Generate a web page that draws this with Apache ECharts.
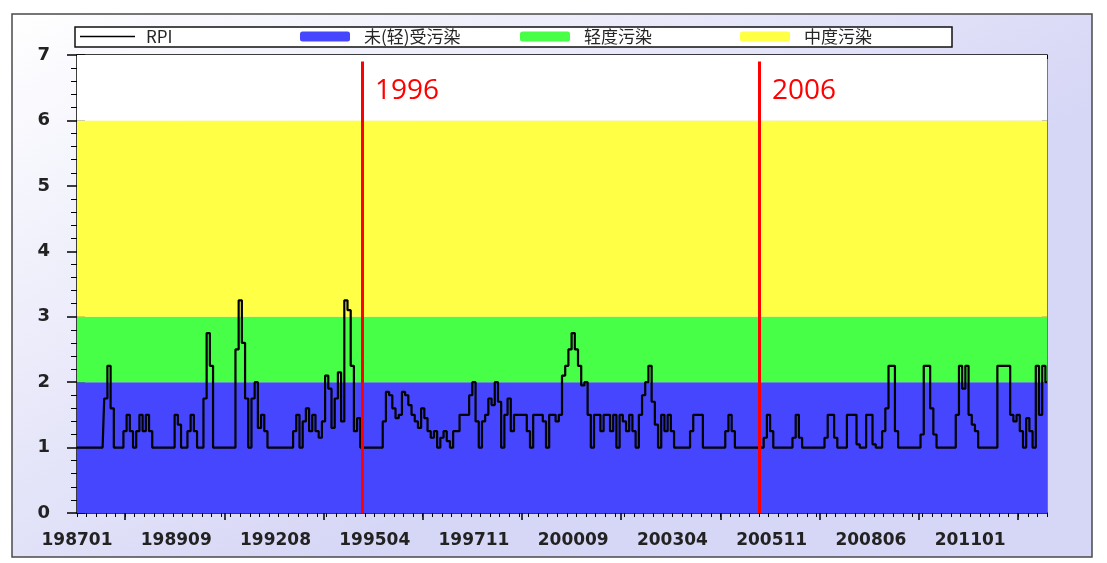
<!DOCTYPE html>
<html>
<head>
<meta charset="utf-8">
<script src="https://cdn.jsdelivr.net/npm/echarts@6/dist/echarts.min.js"></script>
<style>html,body{margin:0;padding:0;background:#fff}#c{width:1107px;height:563px}</style>
</head>
<body>
<div id="c"></div>
<script>
// ---- data ----
const tickLabels = ['198701','198909','199208','199504','199711','200009','200304','200511','200806','201101'];
const stepsPerLabel = 31;
const tailCount = 25;
const seriesNames = ['RPI', '未(轻)受污染', '轻度污染', '中度污染'];
const bandColors = ['#4646FF', '#46FF46', '#FFFF46', '#FFFFFF'];
const bandRanges = [[0, 2], [2, 3], [3, 6], [6, 7]];
const markerYears = ['1996', '2006'];
const markerIndex = [89, 213];
const rpi = [
 1,1,1,1,1,1,1,1,1,1.75,
 2.25,1.6,1,1,1,1.25,1.5,1.25,1,1.25,
 1.5,1.25,1.5,1.25,1,1,1,1,1,1,
 1,1.5,1.35,1,1,1.25,1.5,1.25,1,1,
 1.75,2.75,2.25,1,1,1,1,1,1,1,
 2.5,3.25,2.6,1.75,1,1.75,2,1.3,1.5,1.25,
 1,1,1,1,1,1,1,1,1.25,1.5,
 1,1.4,1.6,1.25,1.5,1.25,1.15,1.4,2.1,1.9,
 1.3,1.75,2.15,1.4,3.25,3.1,2.25,1.25,1.45,1,
 1,1,1,1,1,1,1.4,1.85,1.8,1.6,
 1.45,1.5,1.85,1.8,1.65,1.5,1.4,1.3,1.6,1.45,
 1.25,1.15,1.25,1,1.15,1.25,1.1,1,1.25,1.25,
 1.5,1.5,1.5,1.8,2,1.4,1,1.4,1.5,1.75,
 1.65,2,1.7,1,1.5,1.75,1.25,1.5,1.5,1.5,
 1.5,1.25,1,1.5,1.5,1.5,1.4,1,1.5,1.5,
 1.4,1.5,2.1,2.25,2.5,2.75,2.5,2.25,1.95,2,
 1.5,1,1.5,1.5,1.25,1.5,1.5,1.25,1.5,1,
 1.5,1.4,1.25,1.5,1.25,1,1.5,1.8,2,2.25,
 1.7,1.35,1,1.5,1.25,1.5,1.25,1,1,1,
 1,1,1.25,1.5,1.5,1.5,1,1,1,1,
 1,1,1,1.25,1.5,1.25,1,1,1,1,
 1,1,1,1,1,1.15,1.5,1.25,1,1,
 1,1,1,1,1.15,1.5,1.15,1,1,1,
 1,1,1,1,1.15,1.5,1.5,1.15,1,1,
 1,1.5,1.5,1.5,1.05,1,1,1.5,1.5,1.05,
 1,1,1.25,1.6,2.25,2.25,1.25,1,1,1,
 1,1,1,1,1.2,2.25,2.25,1.6,1.2,1,
 1,1,1,1,1,1.5,2.25,1.9,2.25,1.5,
 1.35,1.25,1,1,1,1,1,1,2.25,2.25,
 2.25,2.25,1.5,1.4,1.5,1.25,1,1.45,1.25,1,
 2.25,1.5,2.25,2
];

// ---- categories (months, labelled every 31 categories) ----
function toM(s){ return parseInt(s.slice(0,4),10)*12 + parseInt(s.slice(4),10) - 1; }
function fromM(m){ const y = Math.floor(m/12), mo = m%12 + 1; return '' + y + (mo < 10 ? '0' : '') + mo; }
const categories = [];
for (let k = 0; k < tickLabels.length - 1; k++) {
  const a = toM(tickLabels[k]), b = toM(tickLabels[k+1]);
  for (let j = 0; j < stepsPerLabel; j++) categories.push(fromM(a + Math.round(j*(b-a)/stepsPerLabel)));
}
for (let j = 0; j < tailCount; j++) categories.push(fromM(toM(tickLabels[tickLabels.length-1]) + j));

const chart = echarts.init(document.getElementById('c'));
const axisFont = {color:'#222', fontSize:17, fontWeight:'bold', fontFamily:'DejaVu Sans, sans-serif'};
const half = Math.floor(stepsPerLabel/2);
const legendLefts = [80, 300, 520, 740];

const baseX = {type:'category', data:categories, boundaryGap:false, gridIndex:0};
function legendFor(k){
  return {
    left:legendLefts[k], top:28, padding:0,
    itemWidth:k === 0 ? 55 : 50, itemHeight:10, itemGap:0,
    textStyle:{color:'#262626', fontSize:17, padding:[0,0,0,k === 0 ? 6 : 9], fontFamily:'Noto Sans CJK SC, sans-serif'},
    data:[{name:seriesNames[k], icon:k === 0 ? 'path://M0,5L55,5L55,6.3L0,6.3Z' : 'roundRect'}]
  };
}
const option = {
  animation:false,
  backgroundColor:'transparent',
  graphic:[{
    type:'rect', z:-10, silent:true,
    shape:{x:12, y:14, width:1080, height:543},
    style:{
      fill:new echarts.graphic.LinearGradient(0,0,0.3,1,[{offset:0,color:'#FFFFFF'},{offset:1,color:'#D6D6F6'}]),
      stroke:'#4a4a4a', lineWidth:1.5
    }
  },{
    type:'rect', z:-5, silent:true,
    shape:{x:75, y:27, width:877, height:20},
    style:{fill:'#FFFFFF', stroke:'#111', lineWidth:1.5}
  }],
  grid:{left:77, right:60, top:55, bottom:50, containLabel:false},
  legend:[legendFor(0), legendFor(1), legendFor(2), legendFor(3)],
  xAxis:[
    Object.assign({}, baseX, {
      position:'bottom',
      axisLine:{lineStyle:{color:'#000', width:1.5}},
      axisTick:{show:true, length:7, interval:(i)=> i % stepsPerLabel === half, lineStyle:{color:'#000', width:1.5}},
      axisLabel:Object.assign({interval:(i)=> i % stepsPerLabel === 0, margin:19}, axisFont),
      splitLine:{show:false}
    }),
    Object.assign({}, baseX, {
      position:'bottom',
      axisLine:{show:false},
      axisTick:{show:true, length:4, interval:(i)=> i % 3 === 0, lineStyle:{color:'#000', width:1}},
      axisLabel:{show:false}, splitLine:{show:false}
    }),
    Object.assign({}, baseX, {
      position:'bottom',
      axisLine:{show:false},
      axisTick:{show:true, inside:true, length:6, interval:(i)=> i % stepsPerLabel === half, lineStyle:{color:'#000', width:1.5}},
      axisLabel:{show:false}, splitLine:{show:false}
    }),
    Object.assign({}, baseX, {
      position:'top',
      axisLine:{lineStyle:{color:'#000', width:1.5}},
      axisTick:{show:true, inside:true, length:4, interval:(i)=> i % 3 === 0, lineStyle:{color:'#000', width:1}},
      axisLabel:{show:false}, splitLine:{show:false}
    })
  ],
  yAxis:[
    {
      type:'value', min:0, max:7, interval:1, position:'left',
      axisLine:{show:true, lineStyle:{color:'#000', width:1.5}},
      axisTick:{show:true, length:10, lineStyle:{color:'#000', width:1.5}},
      minorTick:{show:true, splitNumber:5, length:6, lineStyle:{color:'#000', width:1}},
      axisLabel:Object.assign({margin:27}, axisFont, {fontSize:18}),
      splitLine:{show:false}
    },
    {
      type:'value', min:0, max:7, interval:1, position:'left',
      axisLine:{show:false},
      axisTick:{show:true, inside:true, length:8, lineStyle:{color:'#000', width:1.5}},
      minorTick:{show:true, splitNumber:5, length:4, lineStyle:{color:'#000', width:1}},
      axisLabel:{show:false}, splitLine:{show:false}
    },
    {
      type:'value', min:0, max:7, interval:1, position:'right',
      axisLine:{show:true, lineStyle:{color:'#777', width:1}},
      axisTick:{show:true, inside:true, length:5, lineStyle:{color:'#333', width:1}},
      axisLabel:{show:false}, splitLine:{show:false}
    }
  ],
  series:[
    {
      name:seriesNames[0], type:'line', step:'middle', symbol:'none', z:3,
      data:rpi, xAxisIndex:0, yAxisIndex:0,
      itemStyle:{color:'#000'},
      lineStyle:{color:'#000', width:2.2},
      markArea:{
        silent:true,
        data:bandRanges.map((r, k) => [{yAxis:r[0], itemStyle:{color:bandColors[k], opacity:1}}, {yAxis:r[1]}])
      },
      markLine:{
        silent:true, symbol:['none','none'], animation:false,
        lineStyle:{color:'#FF0000', width:3, type:'solid'},
        label:{show:false},
        data:markerIndex.map(idx => [{coord:[categories[idx], 6.9]}, {coord:[categories[idx], 0]}])
      },
      markPoint:{
        silent:true, symbol:'circle', symbolSize:0,
        label:{show:true, position:'right', distance:13, color:'#FF0000', fontSize:28, fontFamily:'Open Sans, Liberation Sans, sans-serif'},
        data:markerIndex.map((idx, k) => ({coord:[categories[idx], 6.45], value:markerYears[k], label:{formatter:markerYears[k]}}))
      }
    },
    {name:seriesNames[1], type:'bar', data:[], itemStyle:{color:bandColors[0]}},
    {name:seriesNames[2], type:'bar', data:[], itemStyle:{color:bandColors[1]}},
    {name:seriesNames[3], type:'bar', data:[], itemStyle:{color:bandColors[2]}}
  ]
};
chart.setOption(option);
</script>
</body>
</html>
